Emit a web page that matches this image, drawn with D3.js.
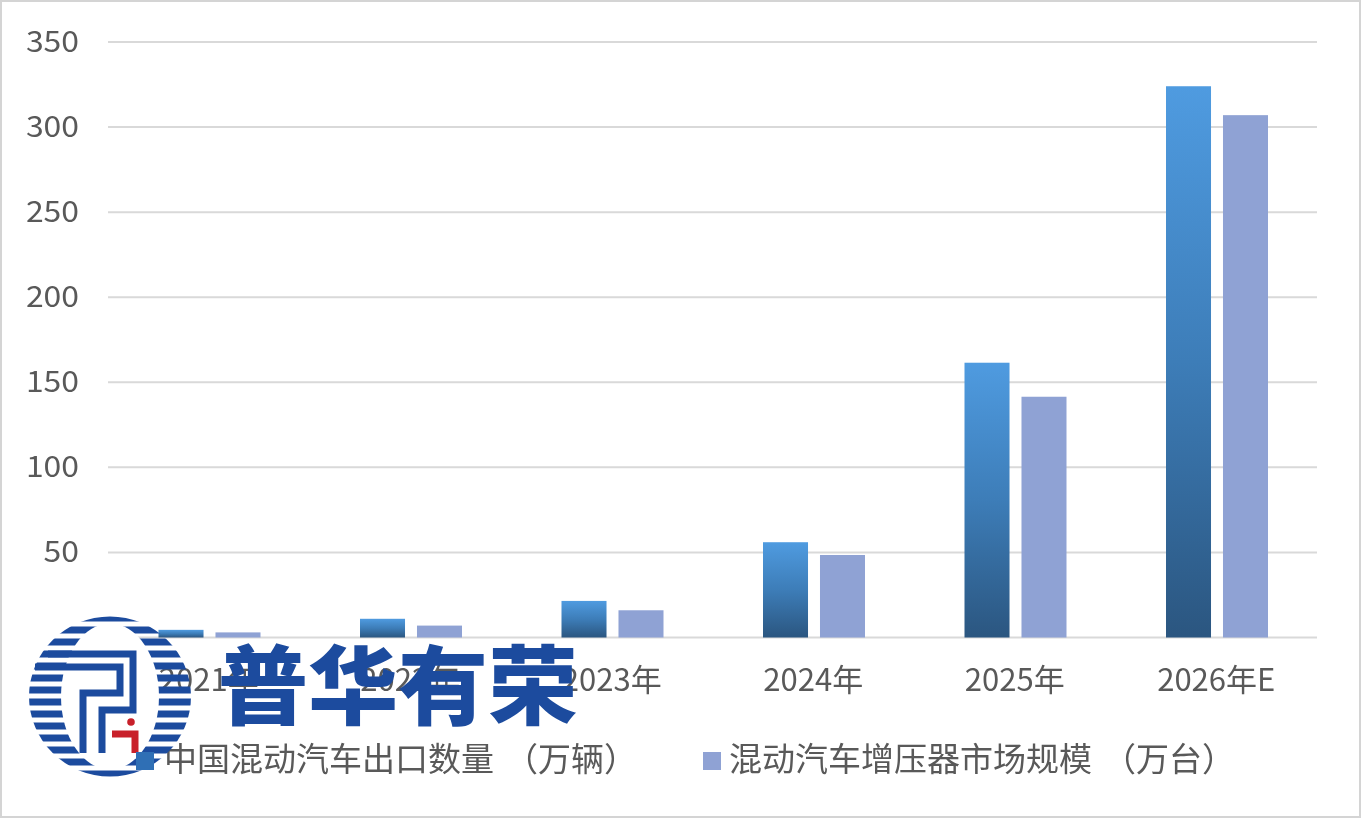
<!DOCTYPE html>
<html><head><meta charset="utf-8">
<script src="https://cdnjs.cloudflare.com/ajax/libs/d3/7.8.5/d3.min.js"></script>
<style>
html,body{margin:0;padding:0;background:#fff;overflow:hidden}
svg{display:block;filter:blur(0.45px)}
text{font-family:"Noto Sans CJK SC","Noto Sans",sans-serif}
</style></head><body>
<svg id="c" width="1361" height="818"></svg>
<script>
const categories = ["2021年","2022年","2023年","2024年","2025年","2026年E"];
const seriesNames = ["中国混动汽车出口数量（万辆）","混动汽车增压器市场规模（万台）"];
const exportsVol = [4.5,11,21.5,56,161.5,324];
const turboMarket = [3,7,16,48.5,141.5,307];
const yTicks = [50,100,150,200,250,300,350];
const logoText = "普华有荣";

const svg = d3.select("#c");
const defs = svg.append("defs");
const grad = defs.append("linearGradient").attr("id","g1").attr("x1",0).attr("x2",0).attr("y1",0).attr("y2",1);
grad.append("stop").attr("offset","0%").attr("stop-color","#4f9be0");
grad.append("stop").attr("offset","50%").attr("stop-color","#3d7db8");
grad.append("stop").attr("offset","100%").attr("stop-color","#2b5680");

// frame
svg.append("rect").attr("x",0.5).attr("y",0.5).attr("width",1360).attr("height",817)
  .attr("fill","#fff").attr("stroke","#d4d4d4").attr("stroke-width",3);

const x0 = d3.scaleBand().domain(categories).range([108,1317]);
const x1 = d3.scaleBand().domain([0,1]).range([50.5,152.5]).paddingInner(0.21);
const y = d3.scaleLinear().domain([0,350]).range([637.5,42]);

// grid
svg.append("g").selectAll("line").data([0].concat(yTicks)).join("line")
  .attr("x1",108).attr("x2",1317).attr("y1",d=>y(d)).attr("y2",d=>y(d))
  .attr("stroke","#d9d9d9").attr("stroke-width",2);

// y labels
const yAxis = svg.append("g").attr("transform","translate(79,0)")
  .call(d3.axisLeft(y).tickValues(yTicks).tickSize(0).tickPadding(0).tickFormat(d3.format("d")));
yAxis.select(".domain").remove();
yAxis.selectAll("text").attr("fill","#595959").attr("font-size",29)
  .attr("textLength",d=>String(d).length*17.7).attr("lengthAdjust","spacingAndGlyphs").attr("dy","0.32em");

// x labels
const xAxis = svg.append("g").attr("transform","translate(0,637.5)")
  .call(d3.axisBottom(x0).tickSize(0).tickPadding(31));
xAxis.select(".domain").remove();
xAxis.selectAll("text").attr("fill","#595959").attr("font-size",31);

// bars
const cols = [exportsVol,turboMarket];
cols.forEach((vals,s)=>{
  svg.append("g").selectAll("rect").data(vals).join("rect")
    .attr("x",(d,i)=>x0(categories[i])+x1(s))
    .attr("width",x1.bandwidth())
    .attr("y",d=>y(d))
    .attr("height",d=>y(0)-y(d))
    .attr("fill",s===0?"url(#g1)":"#8fa2d4");
});

// legend text
const lgX = [136,703], lgT=[164,729];
seriesNames.forEach((n,i)=>{
  const cut = n.indexOf("（");
  const t = svg.append("text").attr("x",lgT[i]).attr("y",771).attr("font-size",33).attr("fill","#595959");
  t.append("tspan").text(n.slice(0,cut));
  t.append("tspan").attr("dx",11).text(n.slice(cut));
});

// logo
const blue="#1c4b9e";
const logo = svg.append("g");
const cx=110, cy=696.5, rx=81, ry=80;
defs.append("clipPath").attr("id","ell").append("ellipse").attr("cx",cx).attr("cy",cy).attr("rx",rx).attr("ry",ry);
const lc = logo.append("g").attr("clip-path","url(#ell)");
d3.range(618,780,12).forEach(yy=>{
  lc.append("rect").attr("x",cx-rx).attr("y",yy-3.5).attr("width",2*rx).attr("height",7).attr("fill",blue);
});
logo.append("ellipse").attr("cx",cx).attr("cy",cy).attr("rx",49).attr("ry",73).attr("fill","#fff");
const paths=["M48 654H133V710H102V753","M35 667H120V693H83V753"];
const inner=logo.append("g").attr("fill","none").attr("stroke",blue).attr("stroke-width",7);
paths.forEach(p=>inner.append("path").attr("d",p));
logo.append("path").attr("d","M112 734H135V753").attr("fill","none").attr("stroke","#c8202a").attr("stroke-width",7);
logo.append("circle").attr("cx",131).attr("cy",722).attr("r",3.8).attr("fill","#c8202a");

logo.append("text").attr("x",218).attr("y",718).attr("font-size",86).attr("font-weight",900)
  .attr("fill",blue).attr("textLength",360).attr("lengthAdjust","spacingAndGlyphs").text(logoText);

// legend markers
seriesNames.forEach((n,i)=>{
  svg.append("rect").attr("x",lgX[i]).attr("y",752).attr("width",18).attr("height",18)
    .attr("fill",i===0?"#2f6fb5":"#8fa2d4");
});
</script>
</body></html>
